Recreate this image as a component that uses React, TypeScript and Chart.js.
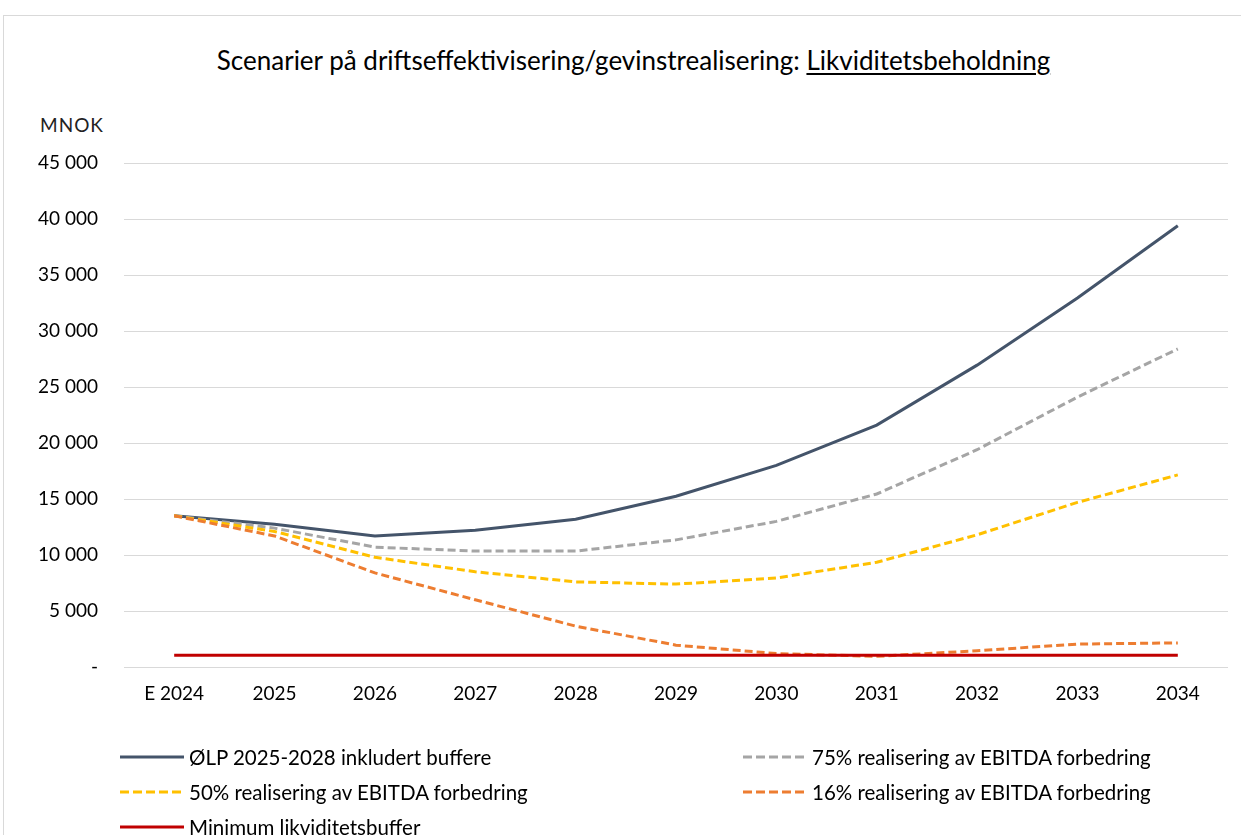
import React, { useEffect, useRef } from "react";
import { Chart, registerables } from "chart.js";
Chart.register(...registerables);

const categories = ["E 2024", "2025", "2026", "2027", "2028", "2029", "2030", "2031", "2032", "2033", "2034"];
const olpValues = [13500, 12750, 11700, 12200, 13200, 15250, 18000, 21600, 26950, 32950, 39400];
const real75Values = [13500, 12400, 10700, 10350, 10350, 11350, 13000, 15450, 19400, 24100, 28400];
const real50Values = [13500, 12100, 9800, 8500, 7600, 7400, 7950, 9350, 11800, 14700, 17150];
const real16Values = [13500, 11700, 8400, 6000, 3650, 1950, 1200, 950, 1450, 2050, 2150];
const minBufferValues = [1050, 1050, 1050, 1050, 1050, 1050, 1050, 1050, 1050, 1050, 1050];

const seriesNames = [
  "ØLP 2025-2028 inkludert buffere",
  "75% realisering av EBITDA forbedring",
  "50% realisering av EBITDA forbedring",
  "16% realisering av EBITDA forbedring",
  "Minimum likviditetsbuffer",
];
const seriesColors = ["#44546A", "#A5A5A5", "#FFC000", "#ED7D31", "#C00000"];
const seriesDashed = [false, true, true, true, false];
const seriesData = [olpValues, real75Values, real50Values, real16Values, minBufferValues];

const yTickStep = 5000;
const yMax = 45000;

const FONT = "Lato, 'Noto Sans', sans-serif";
const TEXT = "#000";

function fmt(v: number) {
  if (v === 0) return "-";
  return String(v).replace(/\B(?=(\d{3})+(?!\d))/g, " ");
}

// legend layout: [seriesIndex, left, top]
const legendPlacement: [number, number, number][] = [
  [0, 120, 757],
  [1, 743, 757],
  [2, 120, 792],
  [3, 743, 792],
  [4, 120, 827],
];

export default function App() {
  const ref = useRef<HTMLCanvasElement>(null);
  useEffect(() => {
    const chart = new Chart(ref.current as HTMLCanvasElement, {
      type: "line",
      data: {
        labels: categories,
        datasets: seriesData.map((d, i) => ({
          label: seriesNames[i],
          data: d,
          borderColor: seriesColors[i],
          backgroundColor: seriesColors[i],
          borderWidth: 3,
          borderDash: seriesDashed[i] ? [8, 4] : [],
          pointRadius: 0,
          tension: 0,
          fill: false,
          order: 4 - i,
        })),
      },
      options: {
        responsive: false,
        animation: false,
        layout: { padding: { left: 0, right: 13, top: 163, bottom: 128 } },
        plugins: {
          legend: { display: false },
          title: { display: false },
          tooltip: { enabled: false },
        },
        scales: {
          x: {
            offset: true,
            grid: { display: false, drawTicks: false },
            border: { display: false },
            ticks: { padding: 15, color: TEXT, font: { family: FONT, size: 19 }, maxRotation: 0 },
            afterFit: (s: any) => {
              s.height = 40;
            },
          },
          y: {
            min: 0,
            max: yMax,
            grid: { color: "#d9d9d9", drawTicks: false, lineWidth: 1 },
            border: { display: false },
            ticks: {
              stepSize: yTickStep,
              padding: 26,
              color: TEXT,
              font: { family: FONT, size: 19 },
              callback: (v: any) => fmt(Number(v)),
            },
            afterFit: (s: any) => {
              s.width = 124;
            },
          },
        },
      },
    });
    return () => chart.destroy();
  }, []);

  return (
    <div style={{ position: "fixed", left: 0, top: 0, width: 1241, height: 835, overflow: "hidden", background: "#fff" }}>
      <div style={{ position: "absolute", left: 3, top: 15, width: 1300, height: 900, border: "1px solid #d9d9d9" }} />
      <div
        style={{
          position: "absolute",
          left: 0,
          width: 1267,
          top: 44,
          lineHeight: "32px",
          textAlign: "center",
          fontFamily: FONT,
          fontSize: 26,
          color: "#000",
          whiteSpace: "nowrap",
        }}
      >
        Scenarier på driftseffektivisering/gevinstrealisering:{" "}
        <span style={{ textDecoration: "underline", textUnderlineOffset: 3 }}>Likviditetsbeholdning</span>
      </div>
      <div
        style={{
          position: "absolute",
          left: 40,
          top: 113,
          lineHeight: "24px",
          fontFamily: FONT,
          fontSize: 19,
          letterSpacing: 1,
          color: "#222",
        }}
      >
        MNOK
      </div>
      <canvas ref={ref} width={1241} height={835} style={{ position: "absolute", left: 0, top: 0 }} />
      {legendPlacement.map(([i, left, top]) => (
        <div
          key={i}
          style={{
            position: "absolute",
            left,
            top: top - 12,
            height: 24,
            display: "flex",
            alignItems: "center",
            fontFamily: FONT,
            fontSize: 20.5,
            color: TEXT,
            whiteSpace: "nowrap",
          }}
        >
          <svg width={64} height={24} style={{ marginRight: 5, flexShrink: 0 }}>
            <line
              x1={0}
              y1={12}
              x2={64}
              y2={12}
              stroke={seriesColors[i]}
              strokeWidth={3}
              strokeDasharray={seriesDashed[i] ? "9 4" : undefined}
            />
          </svg>
          <span>{seriesNames[i]}</span>
        </div>
      ))}
    </div>
  );
}
